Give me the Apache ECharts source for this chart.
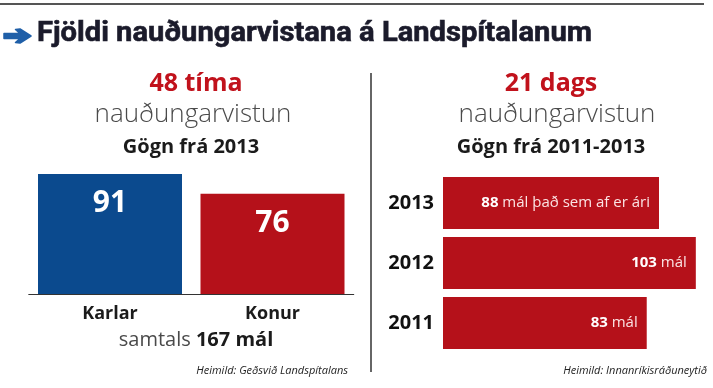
<!DOCTYPE html>
<html><head><meta charset="utf-8">
<script src="https://cdn.jsdelivr.net/npm/echarts@6/dist/echarts.min.js"></script>
<style>html,body{margin:0;padding:0;background:#fff}#c{width:713px;height:388px}</style>
</head><body><div id="c"></div>
<script>
// Left chart data (48 tíma, 2013)
const leftCategories = ['Karlar', 'Konur'];
const leftValues = [91, 76];
// Right chart data (21 dags, 2011-2013)
const rightCategories = ['2011', '2012', '2013'];
const rightValues = [83, 103, 88];
const rightSuffix = [' mál', ' mál', ' mál það sem af er ári'];
const mainTitle = 'Fjöldi nauðungarvistana á Landspítalanum';

const RED = '#b5111a', BLUE = '#0b4a8e';
const chart = echarts.init(document.getElementById('c'));
const sans = '"Open Sans", "Noto Sans", sans-serif';

// condensed look for the headline: measure and squeeze horizontally
const titleFont = 'bold 27px Roboto';
const cv = document.createElement('canvas').getContext('2d');
cv.font = titleFont;
const titleW = cv.measureText(mainTitle).width;
const titleScale = 555 / titleW;

chart.setOption({
  backgroundColor: '#fff',
  animation: false,
  title: [
    {text: '48 tíma', left: 191, top: 66, textAlign: 'center',
     textStyle: {fontFamily: sans, fontWeight: 'bold', fontSize: 25, color: '#c1121c'}},
    {text: 'nauðungarvistun', left: 188, top: 97, textAlign: 'center',
     textStyle: {fontFamily: sans, fontWeight: 300, fontSize: 26, color: '#4a4a4a'}},
    {text: 'Gögn frá 2013', left: 186, top: 132, textAlign: 'center',
     textStyle: {fontFamily: sans, fontWeight: 'bold', fontSize: 20, color: '#1b1b1b'}},
    {text: '21 dags', left: 546, top: 66, textAlign: 'center',
     textStyle: {fontFamily: sans, fontWeight: 'bold', fontSize: 25, color: '#c1121c'}},
    {text: 'nauðungarvistun', left: 552, top: 97, textAlign: 'center',
     textStyle: {fontFamily: sans, fontWeight: 300, fontSize: 26, color: '#4a4a4a'}},
    {text: 'Gögn frá 2011-2013', left: 546, top: 132, textAlign: 'center',
     textStyle: {fontFamily: sans, fontWeight: 'bold', fontSize: 20, color: '#1b1b1b'}},
    {text: '{a|samtals }{b|167 mál}', left: 191, top: 325, textAlign: 'center',
     textStyle: {fontWeight: 'normal', rich: {a: {fontFamily: sans, fontWeight: 'normal', fontSize: 20, color: '#4a4a4a'}, b: {fontFamily: sans, fontSize: 20, fontWeight: 'bold', color: '#1b1b1b'}}}},
    {text: 'Heimild: Geðsvið Landspítalans', left: 343, top: 360, textAlign: 'right',
     textStyle: {fontFamily: sans, fontStyle: 'italic', fontWeight: 'normal', fontSize: 11, color: '#222'}},
    {text: 'Heimild: Innanríkisráðuneytið', left: 702, top: 360, textAlign: 'right',
     textStyle: {fontFamily: sans, fontStyle: 'italic', fontWeight: 'normal', fontSize: 11, color: '#222'}}
  ],
  graphic: [
    {type: 'line', shape: {x1: 0, y1: 4, x2: 704, y2: 4}, style: {stroke: '#555', lineWidth: 2}},
    {type: 'line', shape: {x1: 371, y1: 73, x2: 371, y2: 372}, style: {stroke: '#666', lineWidth: 2}},
    {type: 'polygon', shape: {points: [[4, 33.5], [20, 33.5], [15.5, 29.5], [20, 29], [31, 36], [20, 43], [15.5, 42.5], [20, 38.5], [4, 38.5]]},
     style: {fill: '#1f5fa8', stroke: '#1f5fa8', lineWidth: 1.5, lineJoin: 'round'}},
    {type: 'text', x: 37, y: 21, scaleX: titleScale, scaleY: 1,
     style: {text: mainTitle, font: titleFont, fill: '#1b1b2b', stroke: '#1b1b2b', lineWidth: 0.6, textVerticalAlign: 'top'}}
  ],
  grid: [
    {left: 28.75, width: 325, top: 162, height: 132},
    {left: 443, width: 277.2, top: 173, height: 180}
  ],
  xAxis: [
    {gridIndex: 0, type: 'category', data: leftCategories,
     axisLine: {show: true, lineStyle: {color: '#333', width: 1}}, axisTick: {show: false},
     axisLabel: {margin: 11, fontFamily: sans, fontWeight: 'bold', fontSize: 18, color: '#1b1b1b'}},
    {gridIndex: 1, type: 'value', min: 0, max: 110, show: false, splitLine: {show: false}}
  ],
  yAxis: [
    {gridIndex: 0, type: 'value', min: 0, max: 100, show: false, splitLine: {show: false}},
    {gridIndex: 1, type: 'category', data: rightCategories,
     axisLine: {show: false}, axisTick: {show: false},
     axisLabel: {margin: 9, fontFamily: sans, fontWeight: 'bold', fontSize: 20, color: '#111'}}
  ],
  series: [
    {type: 'bar', xAxisIndex: 0, yAxisIndex: 0, barWidth: 144,
     data: leftValues.map((v, i) => ({value: v, itemStyle: {color: i === 0 ? BLUE : RED}})),
     label: {show: true, position: 'insideTop', distance: 15, color: '#fff', fontFamily: sans, fontWeight: 'bold', fontSize: 30}},
    {type: 'bar', xAxisIndex: 1, yAxisIndex: 1, barWidth: 52,
     itemStyle: {color: RED},
     data: rightValues,
     label: {show: true, position: 'insideRight', distance: 9,
       formatter: p => '{b|' + p.value + '}{n|' + rightSuffix[p.dataIndex] + '}',
       rich: {b: {fontFamily: sans, fontWeight: 'bold', fontSize: 15, color: '#fff'},
              n: {fontFamily: sans, fontSize: 15, color: '#fbe4e4'}}}}
  ]
});
</script></body></html>
